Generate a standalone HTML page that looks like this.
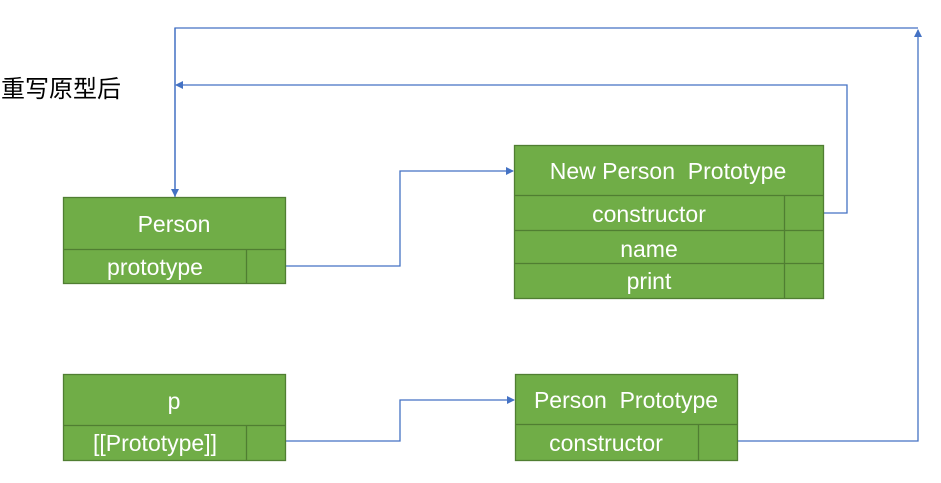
<!DOCTYPE html>
<html><head><meta charset="utf-8"><style>
html,body{margin:0;padding:0;background:#fff;width:941px;height:483px;overflow:hidden}
svg text{font-family:"Liberation Sans","Noto Sans CJK SC",sans-serif}
</style></head><body>
<svg width="941" height="483" xmlns="http://www.w3.org/2000/svg">
<defs><marker id="a" markerWidth="8" markerHeight="8" refX="7" refY="4" orient="auto" markerUnits="userSpaceOnUse"><path d="M0,0 L8,4 L0,8 z" fill="#4472c4"/></marker></defs>
<text x="1" y="97" font-size="24" fill="#000">重写原型后</text>
<g fill="none" stroke="#4472c4" stroke-width="1.3">
<path d="M175,197 L175,28 L918,28"/>
<path d="M175,28 L175,196" marker-end="url(#a)"/>
<path d="M737,441 L918,441 L918,30" marker-end="url(#a)"/>
<path d="M823,213 L847,213 L847,85 L176,85" marker-end="url(#a)"/>
<path d="M285,266 L400,266 L400,171 L513,171" marker-end="url(#a)"/>
<path d="M285,441 L400,441 L400,400 L514,400" marker-end="url(#a)"/>
</g>
<g fill="#70ad47" stroke="#507e32" stroke-width="1.3">
<rect x="63.5" y="197.5" width="222" height="86"/>
<path d="M63.5,249.5 H285.5 M246.5,249.5 V283.5"/>
<rect x="514.5" y="145.5" width="309" height="153"/>
<path d="M514.5,195.5 H823.5 M514.5,230.5 H823.5 M514.5,263.5 H823.5 M784.5,195.5 V298.5"/>
<rect x="63.5" y="374.5" width="222" height="86"/>
<path d="M63.5,425.5 H285.5 M246.5,425.5 V460.5"/>
<rect x="515.5" y="374.5" width="222" height="86"/>
<path d="M515.5,424.5 H737.5 M698.5,424.5 V460.5"/>
</g>
<g fill="#fff" font-size="23" text-anchor="middle">
<text x="174" y="232">Person</text>
<text x="155" y="275">prototype</text>
<text x="668" y="179">New Person&#160; Prototype</text>
<text x="649" y="222">constructor</text>
<text x="649" y="257">name</text>
<text x="649" y="289">print</text>
<text x="174" y="409">p</text>
<text x="155" y="451">[[Prototype]]</text>
<text x="626" y="408">Person&#160; Prototype</text>
<text x="606" y="451">constructor</text>
</g>
</svg>
</body></html>
